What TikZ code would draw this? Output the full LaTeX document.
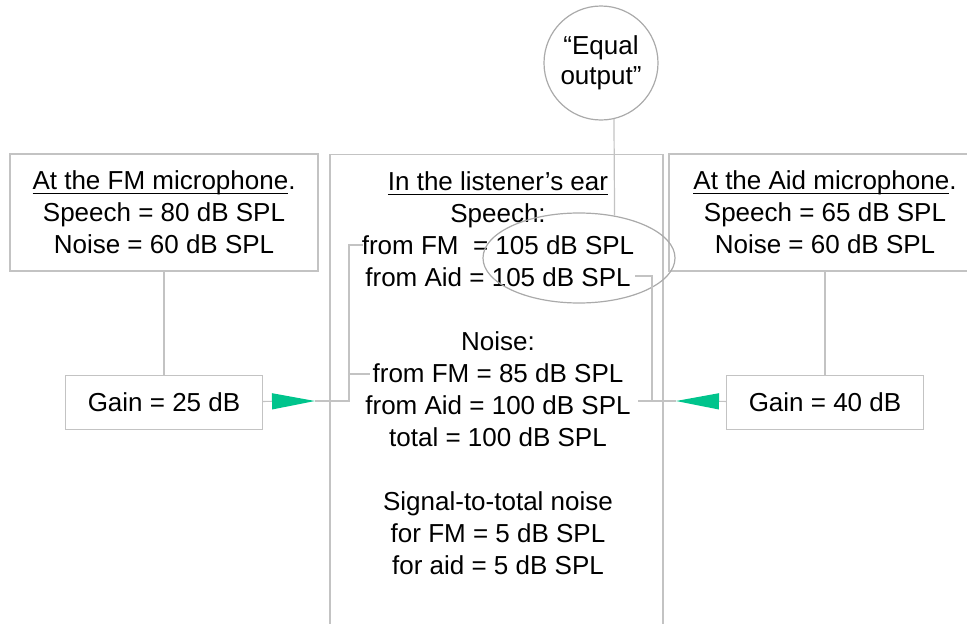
\documentclass[tikz,border=0pt]{standalone}
\usepackage{amsmath}
\usepackage{fontspec}
\setmainfont{Liberation Sans}
\usepackage{xcolor}
\usepackage{tikz}
\usetikzlibrary{positioning,arrows.meta,shapes.geometric}
\definecolor{wiregray}{RGB}{195,195,195}
\definecolor{ringgray}{RGB}{170,170,170}
\definecolor{gainteal}{RGB}{0,196,140}
\tikzset{
  hookup/.style={x=1pt,y=-1pt,
    line width=1.2pt,
    node distance=103pt,
    every node/.style={font=\fontsize{26}{32}\selectfont}},
  panel/.style={rectangle,draw=wiregray,align=center,inner sep=0pt},
  gainbox/.style={panel,minimum width=197pt,minimum height=54pt},
  bubble/.style={circle,draw=ringgray,align=center,minimum size=114pt,
    inner sep=0pt,font=\fontsize{26}{30}\selectfont},
  halo/.style={ellipse,draw=ringgray,minimum width=192pt,minimum height=90pt,inner sep=0pt},
  wire/.style={draw=wiregray},
  feed/.style={wire,-{Triangle[length=43pt,width=16pt,color=gainteal]}}
}

\begin{document}
\begin{tikzpicture}[hookup]
  \useasboundingbox (0,0) rectangle (967,624);
  % the three panels
  \node[panel,minimum width=308pt,minimum height=117pt] (fm) at (164,212.5)
    {\underline{\smash[b]{At the FM microphone}}.\\Speech = 80 dB SPL\\Noise = 60 dB SPL};
  \node[panel,minimum width=312pt,minimum height=117pt] (aid) at (825,212.5)
    {\underline{\smash[b]{At the Aid microphone}}.\\Speech = 65 dB SPL\\Noise = 60 dB SPL};
  \node[panel,minimum width=333pt,minimum height=520pt,anchor=north] (ear) at (496.5,154) {};
  \node[anchor=north,align=center,inner sep=0pt] (eartext) at (498,171)
    {\underline{In the listener’s ear}\\
     Speech:\\
     from FM\ \ = 105 dB SPL\\
     from Aid = 105 dB SPL\\[32pt]
     Noise:\\
     from FM = 85 dB SPL\\
     from Aid = 100 dB SPL\\
     total = 100 dB SPL\\[32pt]
     Signal-to-total noise\\
     for FM = 5 dB SPL\\
     for aid = 5 dB SPL};
  % gains
  \node[gainbox] (g25) [below=of fm] {Gain = 25 dB};
  \node[gainbox] (g40) [below=of aid] {Gain = 40 dB};
  % equal output
  \node[bubble] (eq) at (601,63) {“Equal\\output”};
  \node[halo] (same) at (579,258) {};
  \coordinate (tipL) at (315,401);
  \coordinate (busL) at (349,401);
  \coordinate (spFM) at (363,245);
  \coordinate (nsFM) at (370,374);
  \coordinate (tipR) at (676,401);
  \coordinate (busR) at (652,401);
  \coordinate (spAid) at (635,276);
  \coordinate (nsAid) at (638,401);
  \draw[wire] (fm) -- (g25);
  \draw[wire] (aid) -- (g40);
  \draw[feed] (g25) -- (tipL);
  \draw[wire] (tipL) -- (busL) |- (spFM);
  \draw[wire] (busL |- nsFM) -- (nsFM);
  \draw[feed] (g40) -- (tipR);
  \draw[wire] (tipR) -- (busR) |- (spAid);
  \draw[wire] (nsAid) -- (busR);
  \draw[wire] (eq.-77) -- (same.50);
\end{tikzpicture}
\end{document}
